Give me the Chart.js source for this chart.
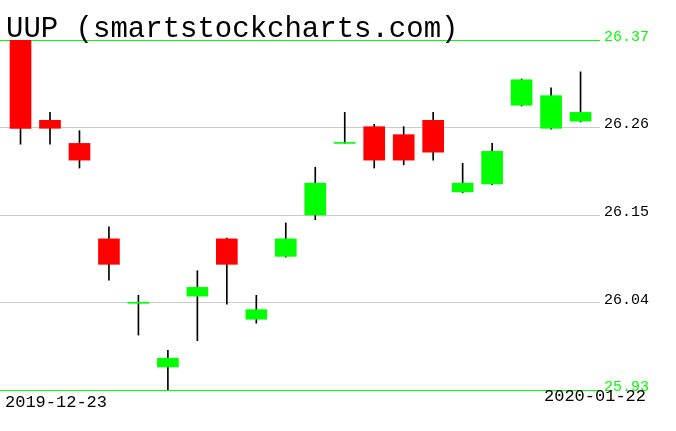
<!DOCTYPE html>
<html>
<head>
<meta charset="utf-8">
<script src="https://cdn.jsdelivr.net/npm/chart.js@4/dist/chart.umd.min.js"></script>
<style>
  html, body { margin: 0; padding: 0; background: #fff; }
  #wrap { width: 676px; height: 431px; position: relative; }
</style>
</head>
<body>
<div id="wrap"><canvas id="uup-chart"></canvas></div>
<script>
var dates = ['2019-12-23', '2019-12-24', '2019-12-26', '2019-12-27', '2019-12-30', '2019-12-31',
  '2020-01-02', '2020-01-03', '2020-01-06', '2020-01-07', '2020-01-08', '2020-01-09', '2020-01-10',
  '2020-01-13', '2020-01-14', '2020-01-15', '2020-01-16', '2020-01-17', '2020-01-21', '2020-01-22'];
var opens  = [26.370, 26.269, 26.240, 26.120, 26.039, 25.959, 26.048, 26.120, 26.019, 26.098,
  26.150, 26.240, 26.261, 26.251, 26.269, 26.179, 26.189, 26.288, 26.259, 26.268];
var highs  = [26.370, 26.279, 26.256, 26.135, 26.049, 25.980, 26.080, 26.121, 26.049, 26.140,
  26.210, 26.279, 26.264, 26.261, 26.279, 26.215, 26.240, 26.321, 26.310, 26.330];
var lows   = [26.239, 26.239, 26.209, 26.068, 25.999, 25.930, 25.992, 26.038, 26.014, 26.097,
  26.144, 26.240, 26.209, 26.213, 26.219, 26.178, 26.188, 26.287, 26.258, 26.267];
var closes = [26.259, 26.259, 26.219, 26.088, 26.040, 25.970, 26.059, 26.088, 26.031, 26.120,
  26.190, 26.241, 26.219, 26.219, 26.229, 26.190, 26.230, 26.320, 26.300, 26.279];
var yTicks = [25.93, 26.04, 26.15, 26.26, 26.37];
var title = 'UUP (smartstockcharts.com)';

var UP = '#00ff00', DOWN = '#ff0000';

var bodies = opens.map(function (o, i) { return { x: i, y: [o, closes[i]] }; });
var wicks = lows.map(function (l, i) { return { x: i, y: [l, highs[i]] }; });
var bodyColors = opens.map(function (o, i) { return closes[i] >= o ? UP : DOWN; });

// title, price labels and the two end dates
var textPlugin = {
  id: 'texts',
  afterDraw: function (c) {
    var ctx = c.ctx, y = c.scales.y, area = c.chartArea;
    ctx.save();
    ctx.fillStyle = '#000';
    ctx.textBaseline = 'alphabetic';
    ctx.textAlign = 'left';
    ctx.font = '29px "Liberation Mono", monospace';
    ctx.fillText(title, 6, 37);
    ctx.font = '15px "Liberation Mono", monospace';
    yTicks.forEach(function (v, i) {
      ctx.fillStyle = (i === 0 || i === yTicks.length - 1) ? UP : '#000';
      ctx.fillText(v.toFixed(2), area.right + 4, Math.round(y.getPixelForValue(v)) + 1);
    });
    ctx.fillStyle = '#000';
    ctx.font = '17px "Liberation Mono", monospace';
    ctx.fillText(dates[0], 5, area.bottom + 17);
    ctx.textAlign = 'right';
    ctx.fillText(dates[dates.length - 1], area.right + 46, area.bottom + 11);
    ctx.restore();
  }
};

var bgPlugin = {
  id: 'bg',
  beforeDraw: function (c) {
    var ctx = c.ctx;
    ctx.save();
    ctx.fillStyle = '#fff';
    ctx.fillRect(0, 0, c.width, c.height);
    ctx.restore();
  }
};

new Chart(document.getElementById('uup-chart').getContext('2d'), {
  type: 'bar',
  data: {
    datasets: [
      {
        label: 'body',
        data: bodies,
        backgroundColor: bodyColors,
        borderWidth: 0,
        barThickness: 21,
        minBarLength: 1,
        grouped: false,
        order: 1
      },
      {
        label: 'wick',
        data: wicks,
        backgroundColor: '#000',
        borderWidth: 0,
        barThickness: 1,
        grouped: false,
        order: 2
      }
    ]
  },
  options: {
    responsive: true,
    maintainAspectRatio: false,
    animation: false,
    layout: { padding: { left: 0, right: 76, top: 40, bottom: 41 } },
    plugins: { legend: { display: false }, tooltip: { enabled: false } },
    scales: {
      x: {
        type: 'linear',
        min: -0.696,
        max: 19.66,
        offset: false,
        grid: { offset: false },
        display: false
      },
      y: {
        position: 'right',
        min: 25.93,
        max: 26.37,
        afterBuildTicks: function (s) {
          s.ticks = yTicks.map(function (v) { return { value: v }; });
        },
        afterFit: function (s) { s.width = 0; },
        ticks: { display: false },
        border: { display: false },
        grid: {
          drawTicks: false,
          lineWidth: 1,
          color: function (ctx) {
            var v = ctx.tick && ctx.tick.value;
            return (v === yTicks[0] || v === yTicks[yTicks.length - 1]) ? UP : '#cccccc';
          }
        }
      }
    }
  },
  plugins: [bgPlugin, textPlugin]
});
</script>
</body>
</html>
